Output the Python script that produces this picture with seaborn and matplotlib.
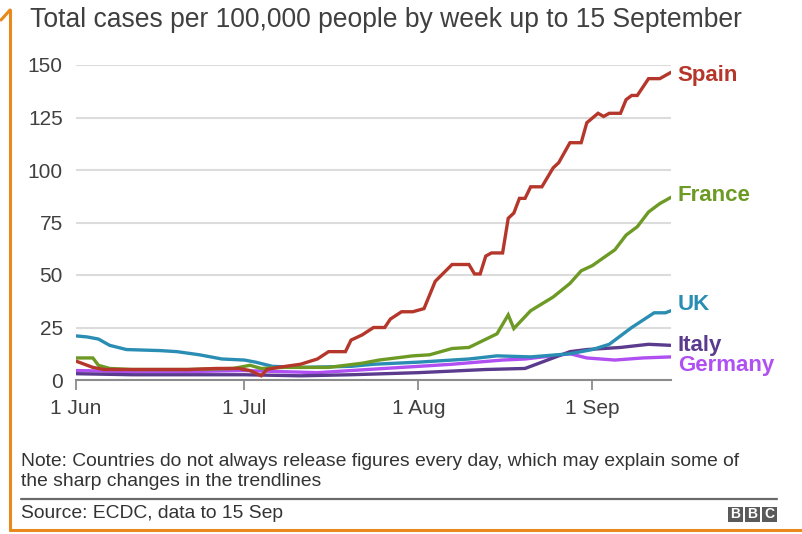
import matplotlib
matplotlib.use("Agg")
import matplotlib.pyplot as plt
from matplotlib.patches import Rectangle
from matplotlib.lines import Line2D
import pandas as pd
import seaborn as sns

# ---- data: days since 1 June 2020 and cumulative cases per 100,000 ----
spain_day = [0, 3, 5, 10, 15, 20, 25, 29, 31, 33, 34, 36, 40, 43, 45, 48, 49, 51, 53, 55,
             56, 58, 60, 62, 64, 67, 70, 71, 72, 73, 74, 76, 77, 78, 79, 80, 81, 83, 85,
             86, 88, 90, 91, 93, 94, 95, 97, 98, 99, 100, 102, 104, 106]
spain_cases = [9, 6, 5, 5, 5, 5, 5.5, 5.5, 4.5, 2, 5, 6, 7.5, 10, 13.5, 13.5, 19, 21.5, 25, 25,
               29, 32.5, 32.5, 34, 47, 55, 55, 50.5, 50.5, 59, 60.5, 60.5, 77, 79.5, 86.5, 86.5,
               92, 92, 101, 103.5, 113, 113, 122.5, 127, 125.5, 127, 127, 133.5, 135.5, 135.5,
               143.5, 143.5, 146.5]

france_day = [0, 3, 4, 6, 10, 20, 28, 31, 33, 37, 45, 51, 54, 60, 63, 67, 70, 75, 77, 78, 81,
              85, 88, 90, 92, 96, 98, 100, 102, 104, 106]
france_cases = [10.5, 10.5, 7, 5.5, 5, 5, 5.5, 7, 5.5, 6, 6, 8, 9.5, 11.5, 12, 15, 15.5, 22,
                31, 24.5, 33, 39.5, 46, 52, 54.5, 62, 69, 73, 80, 84, 87]

uk_day = [0, 2, 4, 6, 9, 15, 18, 22, 26, 30, 32, 35, 40, 49, 53, 61, 70, 75, 81, 88, 92, 95,
          99, 103, 105, 106]
uk_cases = [21, 20.5, 19.5, 16.5, 14.5, 14, 13.5, 12, 10, 9.5, 8.5, 6.5, 6, 6.5, 7.5, 8.5, 10,
            11.5, 11, 12.5, 14.5, 17, 25, 32, 32, 33]

italy_day = [0, 10, 20, 30, 40, 49, 61, 73, 80, 81, 84, 88, 91, 97, 102, 106]
italy_cases = [3, 2.5, 2.5, 2.5, 2, 2.5, 3.5, 5, 5.5, 6.5, 9.5, 13.5, 14.5, 15.5, 17, 16.5]

germany_day = [0, 10, 20, 30, 43, 55, 67, 76, 80, 88, 91, 96, 101, 106]
germany_cases = [4.5, 4, 4, 4.5, 3.5, 5.5, 7.5, 9.5, 10, 12.5, 10.5, 9.5, 10.5, 11]

countries = ["Germany", "Italy", "UK", "France", "Spain"]
colors = {"Spain": "#b5372b", "France": "#6d9a25", "UK": "#2a8db3",
          "Italy": "#5b3b8e", "Germany": "#b04ff2"}
# label vertical positions (data units) on the right edge
label_y = {"Spain": 145, "France": 88, "UK": 36, "Italy": 16.5, "Germany": 7}

tick_dates = ["2020-06-01", "2020-07-01", "2020-08-01", "2020-09-01"]
tick_labels = ["1 Jun", "1 Jul", "1 Aug", "1 Sep"]

start = pd.Timestamp("2020-06-01")
series = {
    "Spain": (spain_day, spain_cases),
    "France": (france_day, france_cases),
    "UK": (uk_day, uk_cases),
    "Italy": (italy_day, italy_cases),
    "Germany": (germany_day, germany_cases),
}
frames = []
for name, (days, vals) in series.items():
    frames.append(pd.DataFrame({
        "date": start + pd.to_timedelta(days, unit="D"),
        "cases": vals,
        "country": name,
    }))
df = pd.concat(frames, ignore_index=True)

# ---- figure ----
sns.set_style("white")
plt.rcParams["font.family"] = ["Liberation Sans", "DejaVu Sans"]

W, H = 802, 534
fig = plt.figure(figsize=(W / 100, H / 100), dpi=100)
ax = fig.add_axes([76 / W, 1 - 380 / H, (671 - 76) / W, (380 - 65) / H])

for name in countries:
    sub = df[df["country"] == name]
    sns.lineplot(data=sub, x="date", y="cases", ax=ax, color=colors[name],
                 linewidth=2.4, legend=False, solid_joinstyle="miter")

end = start + pd.Timedelta(days=106)
ax.set_xlim(start, end)
ax.set_ylim(0, 150)
ax.set_yticks([0, 25, 50, 75, 100, 125, 150])
ax.set_xticks(pd.to_datetime(tick_dates))
ax.set_xticklabels(tick_labels)
ax.set_xlabel("")
ax.set_ylabel("")

ax.grid(axis="y", color="#dcdcdc", linewidth=1.5)
ax.grid(axis="x", visible=False)
ax.set_axisbelow(True)
for s in ["top", "right", "left"]:
    ax.spines[s].set_visible(False)
ax.spines["bottom"].set_color("#8c8c8c")
ax.spines["bottom"].set_linewidth(1.5)
ax.spines["bottom"].set_zorder(1)

ax.tick_params(axis="y", length=0, pad=9.5, labelsize=15, labelcolor="#404040")
ax.tick_params(axis="x", direction="out", length=7, width=1.3, color="#8c8c8c",
               pad=6.5, labelsize=15, labelcolor="#404040")
ax.xaxis.set_tick_params(bottom=True)

for name in countries:
    ax.text(end + pd.Timedelta(days=1.2), label_y[name], name, color=colors[name],
            fontsize=16, fontweight="bold", va="center", ha="left", clip_on=False)

# ---- title, notes, footer ----
fig.text(30 / W, 1 - 20 / H, "Total cases per 100,000 people by week up to 15 September",
         fontsize=19.1, color="#404040", va="center", ha="left")
note_kw = dict(fontsize=13.9, color="#333333", va="center", ha="left")
fig.text(21 / W, 1 - 461 / H,
         "Note: Countries do not always release figures every day, which may explain some of",
         **note_kw)
fig.text(21 / W, 1 - 482 / H, "the sharp changes in the trendlines", **note_kw)
fig.add_artist(Line2D([21 / W, 777 / W], [1 - 499 / H, 1 - 499 / H],
                      transform=fig.transFigure, color="#6a6a6a", linewidth=1.6))
fig.text(21 / W, 1 - 514 / H, "Source: ECDC, data to 15 Sep", **note_kw)

# BBC blocks
for i, letter in enumerate("BBC"):
    x0 = 728 + i * 17
    fig.add_artist(Rectangle((x0 / W, 1 - 522 / H), 15 / W, 15 / H,
                             transform=fig.transFigure, facecolor="#5a5a5a",
                             edgecolor="none"))
    fig.text((x0 + 7.5) / W, 1 - 514.5 / H, letter, fontsize=10, fontweight="bold",
             color="white", ha="center", va="center")

# orange frame on the left and bottom edges
orange = "#e8891c"
fig.add_artist(Line2D([10 / W, 10 / W], [1 - 530 / H, 1 - 10 / H],
                      transform=fig.transFigure, color=orange, linewidth=2.2))
fig.add_artist(Line2D([1 / W, 10 / W], [1 - 20 / H, 1 - 10 / H],
                      transform=fig.transFigure, color=orange, linewidth=2.2))
fig.add_artist(Line2D([10 / W, 1.0], [1 - 530 / H, 1 - 530 / H],
                      transform=fig.transFigure, color=orange, linewidth=2.2))

fig.savefig("out.png", dpi=100, facecolor="white")
